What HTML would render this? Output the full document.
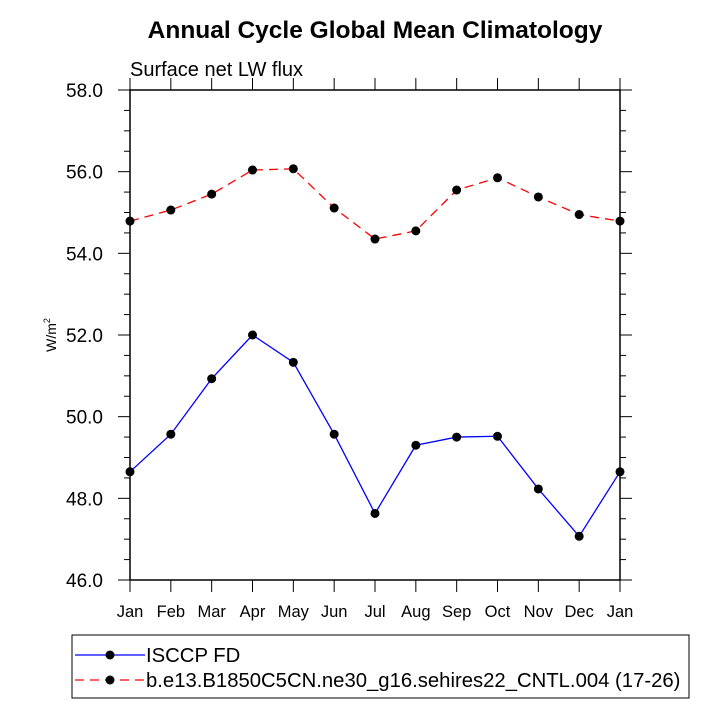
<!DOCTYPE html>
<html><head><meta charset="utf-8"><style>body{margin:0;background:#fff}svg{display:block;font-family:"Liberation Sans",sans-serif}</style></head>
<body>
<svg id="c" width="720" height="720">
<text x="375" y="38" text-anchor="middle" font-size="24.5" font-weight="bold">Annual Cycle Global Mean Climatology</text>
<text x="130" y="76" font-size="20">Surface net LW flux</text>
<text transform="translate(56,335) rotate(-90)" text-anchor="middle" font-size="14">W/m<tspan dy="-6" font-size="9">2</tspan></text>
<g id="axes"></g><g id="series"></g>
<g>
<rect x="72" y="635" width="617" height="63" fill="none" stroke="#000" stroke-width="1"/>
<line x1="75" y1="655" x2="145" y2="655" stroke="#0000ff" stroke-width="1.3"/><circle cx="110" cy="655" r="4.5"/>
<text x="146" y="662" font-size="20.3">ISCCP FD</text>
<line x1="75" y1="680" x2="145" y2="680" stroke="#ff0000" stroke-width="1.3" stroke-dasharray="9,6"/><circle cx="110" cy="680" r="4.5"/>
<text x="146" y="687" font-size="20.3">b.e13.B1850C5CN.ne30_g16.sehires22_CNTL.004 (17-26)</text>
</g>
</svg>
<script>
const months=["Jan","Feb","Mar","Apr","May","Jun","Jul","Aug","Sep","Oct","Nov","Dec","Jan"];
const obsValues=[48.65,49.57,50.93,52.0,51.33,49.57,47.63,49.3,49.5,49.52,48.23,47.07,48.65];
const modelValues=[54.79,55.06,55.45,56.04,56.07,55.11,54.35,54.55,55.55,55.85,55.38,54.95,54.79];
const yTicks=["46.0","48.0","50.0","52.0","54.0","56.0","58.0"];
const L=130,R=620,T=90,B=580,ymin=46,ymax=58;
const X=i=>L+(R-L)*i/(months.length-1);
const Y=v=>B-(B-T)*(v-ymin)/(ymax-ymin);
const NS="http://www.w3.org/2000/svg";
function mk(t,a,p){const e=document.createElementNS(NS,t);for(const k in a)e.setAttribute(k,a[k]);p.appendChild(e);return e;}
const ax=document.getElementById('axes');
const fr=mk('rect',{x:L,y:T,width:R-L,height:B-T,fill:'none',stroke:'#000','stroke-width':1.5},ax);


months.forEach((m,i)=>{const x=X(i);
mk('line',{x1:x,y1:B,x2:x,y2:B+12,stroke:'#000'},ax);
mk('line',{x1:x,y1:T,x2:x,y2:T-12,stroke:'#000'},ax);
const t=mk('text',{x:x,y:B+37,'text-anchor':'middle','font-size':16.5},ax);t.textContent=m;

});
for(let v=ymin;v<=ymax+1e-9;v+=0.5){const y=Y(v);const major=Math.abs(v/2-Math.round(v/2))<1e-6;
const len=major?12:6;
mk('line',{x1:L-len,y1:y,x2:L,y2:y,stroke:'#000'},ax);mk('line',{x1:R,y1:y,x2:R+len,y2:y,stroke:'#000'},ax);}
yTicks.forEach(s=>{const t=mk('text',{x:L-27,y:Y(parseFloat(s))+7,'text-anchor':'end','font-size':19},ax);t.textContent=s;

});
const sg=document.getElementById('series');
function series(vals,col,dash,name){
const p=mk('polyline',{points:vals.map((v,i)=>X(i)+','+Y(v)).join(' '),fill:'none',stroke:col,'stroke-width':1.3,'stroke-dasharray':dash},sg);


vals.forEach((v,i)=>{const c=mk('circle',{cx:X(i),cy:Y(v),r:4.5,fill:'#000'},sg);

});}
series(obsValues,'#0000ff','none','isccp');
series(modelValues,'#ff0000','9,6','model');
</script>
</body></html>
